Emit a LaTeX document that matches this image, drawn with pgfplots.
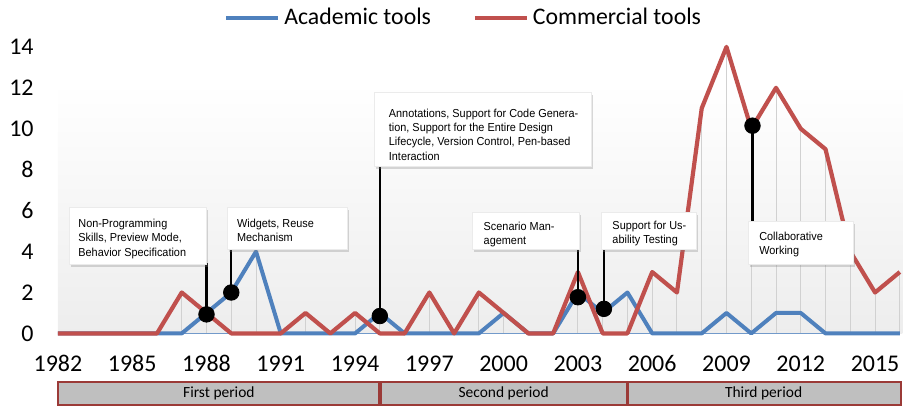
\documentclass[border=0pt]{standalone}
\usepackage{pgfplots}
\pgfplotsset{compat=1.18}
\usepackage{fontspec}
\setmainfont{Carlito}
\newfontfamily\arialf[FakeStretch=0.94]{Liberation Sans}
\usetikzlibrary{shadows}
\definecolor{acad}{HTML}{4F81BD}
\definecolor{comm}{HTML}{C0504D}
\definecolor{boxred}{HTML}{9B3A37}
\definecolor{boxgray}{HTML}{BFBFBF}
\begin{document}
\begin{tikzpicture}
\begin{axis}[
  x=12.4pt, y=10.25pt,
  xmin=1982, xmax=2016, ymin=0, ymax=14,
  clip=false, scale only axis,
  axis line style={draw=none},
  tick style={draw=none},
  xtick={1982,1985,...,2015},
  xticklabels={1982,1985,1988,1991,1994,1997,2000,2003,2006,2009,2012,2015},
  ytick={0,2,...,14},
  yticklabels={0,2,4,6,8,10,12,14},
  ticklabel style={font=\fontsize{12}{14}\selectfont},
  xticklabel style={anchor=base, yshift=-19pt},
  yticklabel style={anchor=east, inner xsep=0pt, xshift=-12pt},
  legend columns=2,
  legend style={draw=none, fill=none, at={(0.4832,1.1007)}, anchor=center,
    font=\fontsize{11.9}{13}\selectfont,
    /tikz/every even column/.append style={column sep=19pt}},
  legend image code/.code={\draw[#1, line width=2pt] (0pt,0pt) -- (26pt,0pt);},
]
% background gradient
\path[top color=white, bottom color=black!7] (axis cs:1982,0) rectangle (axis cs:2016.1,12.24);
% drop lines
\addplot[forget plot, ycomb, draw=black!18, line width=0.5pt, mark=none] coordinates {
(1987,2) (1988,1) (1989,2) (1990,4) (1992,1) (1994,1) (1995,1) (1997,2) (1999,2) (2000,1)
(2003,3) (2004,1) (2005,2) (2006,3) (2007,2) (2008,11) (2009,14) (2010,10) (2011,12)
(2012,10) (2013,9) (2014,4) (2015,2) (2016,3)};
% baseline
\addplot[forget plot, acad!80, line width=0.6pt, mark=none] coordinates {(1982,0) (2016,0)};
\addplot[acad, line width=2pt, line join=round, mark=none] coordinates {
(1982,0) (1983,0) (1984,0) (1985,0) (1986,0) (1987,0) (1988,1) (1989,2) (1990,4) (1991,0)
(1992,0) (1993,0) (1994,0) (1995,1) (1996,0) (1997,0) (1998,0) (1999,0) (2000,1) (2001,0)
(2002,0) (2003,2) (2004,1) (2005,2) (2006,0) (2007,0) (2008,0) (2009,1) (2010,0) (2011,1)
(2012,1) (2013,0) (2014,0) (2015,0) (2016,0)};
\addlegendentry{Academic tools}
\addplot[comm, line width=2.1pt, line join=round, mark=none] coordinates {
(1982,0) (1983,0) (1984,0) (1985,0) (1986,0) (1987,2) (1988,1) (1989,0) (1990,0) (1991,0)
(1992,1) (1993,0) (1994,1) (1995,0) (1996,0) (1997,2) (1998,0) (1999,2) (2000,1) (2001,0)
(2002,0) (2003,3) (2004,0) (2005,0) (2006,3) (2007,2) (2008,11) (2009,14) (2010,10) (2011,12)
(2012,10) (2013,9) (2014,4) (2015,2) (2016,3)};
\addlegendentry{Commercial tools}
% connectors
\addplot[forget plot, black, line width=1.2pt, mark=none] coordinates {(1988,0.93) (1988,3.46)};
\addplot[forget plot, black, line width=1.2pt, mark=none] coordinates {(1989,2) (1989,4.2)};
\addplot[forget plot, black, line width=1.2pt, mark=none] coordinates {(1995,0.85) (1995,8.2)};
\addplot[forget plot, black, line width=1.2pt, mark=none] coordinates {(2003,1.77) (2003,4.15)};
\addplot[forget plot, black, line width=1.2pt, mark=none] coordinates {(2004.05,1.2) (2004.05,4.4)};
\addplot[forget plot, black, line width=1.2pt, mark=none] coordinates {(2010.05,10.15) (2010.05,5.2)};
\addplot[forget plot, only marks, mark=*, mark size=3.9pt, black] coordinates {
(1988,0.93) (1989,2) (1995,0.85) (2003,1.77) (2004.05,1.2) (2010.05,10.15)};
% annotation boxes
\tikzset{abox/.style={fill=white, draw=black!8, drop shadow={opacity=0.3, shadow xshift=0.8pt, shadow yshift=-1.3pt}},
  atext/.style={anchor=north west, inner sep=0pt, align=left, font=\arialf\fontsize{5.8}{7.25}\selectfont}}
\path[abox] (axis cs:1982.48,6.15) rectangle (axis cs:1988.01,3.37);
\node[atext] at (axis cs:1982.81,5.61) {Non-Programming\\Skills, Preview Mode,\\Behavior Specification};
\path[abox] (axis cs:1988.85,6.15) rectangle (axis cs:1993.69,4.10);
\node[atext] at (axis cs:1989.22,5.61) {Widgets, Reuse\\Mechanism};
\path[abox] (axis cs:1994.80,11.80) rectangle (axis cs:2003.53,8.15);
\node[atext, font=\arialf\fontsize{5.8}{7.1}\selectfont] at (axis cs:1995.35,10.98) {Annotations, Support for Code Genera-\\tion, Support for the Entire Design\\Lifecycle, Version Control, Pen-based\\Interaction};
\path[abox] (axis cs:1998.73,5.90) rectangle (axis cs:2003.05,4.10);
\node[atext] at (axis cs:1999.18,5.46) {Scenario Man-\\agement};
\path[abox] (axis cs:2003.94,5.90) rectangle (axis cs:2007.77,4.10);
\node[atext] at (axis cs:2004.38,5.51) {Support for Us-\\ability Testing};
\path[abox] (axis cs:2009.90,5.46) rectangle (axis cs:2014.14,3.37);
\node[atext] at (axis cs:2010.31,4.98) {Collaborative\\Working};
% period boxes
\path[fill=boxgray, draw=boxred, line width=1.1pt] (axis cs:1982,-2.39) rectangle (axis cs:1995,-3.51);
\path[fill=boxgray, draw=boxred, line width=1.1pt] (axis cs:1995,-2.39) rectangle (axis cs:2005,-3.51);
\path[fill=boxgray, draw=boxred, line width=1.1pt] (axis cs:2005,-2.39) rectangle (axis cs:2016.05,-3.51);
\draw[boxred, line width=1.8pt] (axis cs:1995,-2.39) -- (axis cs:1995,-3.51);
\draw[boxred, line width=1.8pt] (axis cs:2005,-2.39) -- (axis cs:2005,-3.51);
\node[font=\fontsize{7.75}{9}\selectfont] at (axis cs:1988.5,-2.95) {First period};
\node[font=\fontsize{7.75}{9}\selectfont] at (axis cs:2000,-2.95) {Second period};
\node[font=\fontsize{7.75}{9}\selectfont] at (axis cs:2010.5,-2.95) {Third period};
% bounding box
\path (axis cs:1979.66,16.29) rectangle (axis cs:2016.19,-3.56);
\end{axis}
\end{tikzpicture}
\end{document}
